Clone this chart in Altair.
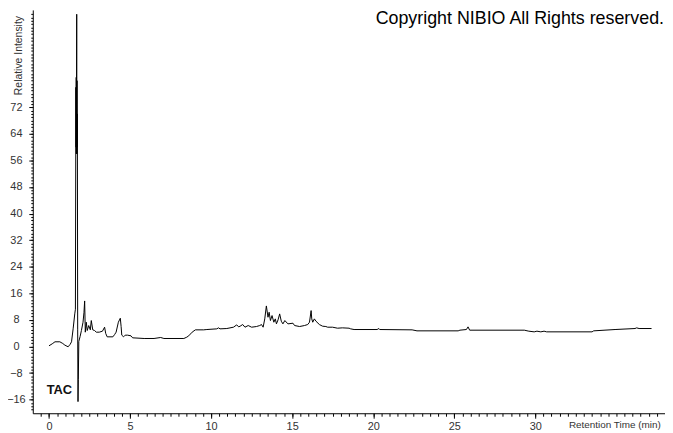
import altair as alt
import pandas as pd

# Chromatogram trace (retention time in min, relative intensity)
time_min = [
    0.0, 0.2, 0.37, 0.67, 0.85, 0.98, 1.18, 1.30, 1.39, 1.49, 1.59, 1.63,
    1.66, 1.67, 1.68, 1.69, 1.70, 1.71, 1.72, 1.73, 1.74, 1.75, 1.77, 1.79,
    1.81, 1.84, 1.92, 2.00, 2.10, 2.16, 2.20, 2.24, 2.30, 2.36, 2.45, 2.55,
    2.61, 2.70, 2.81, 2.92, 3.10, 3.30, 3.43, 3.50, 3.59, 3.94, 4.05, 4.14,
    4.28, 4.40, 4.45, 4.49, 4.60, 4.70, 4.85, 5.06, 5.16, 5.87, 6.48, 6.89,
    7.09, 8.32, 8.50, 8.62, 8.83, 9.03, 9.54, 9.74, 10.35, 10.46, 10.55, 10.97,
    11.38, 11.58, 11.70, 11.79, 11.95, 12.09, 12.29, 12.50, 12.80, 13.00, 13.11, 13.21,
    13.31, 13.41, 13.51, 13.58, 13.66, 13.76, 13.87, 13.96, 14.03, 14.13, 14.23, 14.33,
    14.43, 14.55, 14.74, 15.05, 15.15, 15.46, 15.76, 15.96, 16.07, 16.17, 16.21, 16.27,
    16.37, 16.47, 16.68, 16.88, 17.08, 17.19, 17.49, 17.80, 18.10, 18.51, 18.61, 18.82,
    20.24, 20.35, 20.40, 22.40, 22.70, 25.24, 25.35, 25.75, 25.85, 25.95, 29.32, 29.60,
    29.93, 30.10, 30.34, 30.54, 30.70, 33.50, 33.60, 34.92, 36.15, 36.25, 36.40, 37.17,
]
intensity = [
    0.2, 0.8, 1.4, 1.4, 0.9, 0.4, -0.1, 0.6, 1.4, 5.3, 9.8, 11.2,
    78, 60, 81, 58, 80, 100, 58, 80, 60, 70, 5, -16.6,
    -10, 1.5, 3.0, 4.8, 7.3, 10.3, 13.7, 4.3, 7.3, 4.8, 6.3, 5.0,
    7.8, 5.0, 4.8, 4.3, 4.3, 4.6, 5.8, 3.9, 2.9, 2.9, 3.6, 4.3,
    7.3, 8.5, 6.0, 3.4, 2.9, 3.4, 3.4, 3.2, 2.6, 2.4, 2.4, 2.7,
    2.4, 2.4, 2.8, 3.2, 4.3, 5.0, 5.0, 5.1, 5.3, 5.6, 5.3, 5.4,
    5.8, 6.5, 5.9, 6.1, 6.6, 5.8, 6.3, 5.8, 6.0, 6.3, 6.6, 5.8,
    8.3, 12.2, 8.8, 10.3, 7.8, 9.3, 7.3, 8.3, 6.8, 8.0, 9.8, 7.6,
    6.8, 7.8, 6.8, 7.0, 6.3, 6.0, 6.3, 6.6, 7.3, 10.8, 8.3, 7.3,
    8.3, 7.6, 6.6, 6.1, 6.0, 5.8, 5.8, 5.5, 5.6, 5.5, 5.3, 5.1,
    5.1, 5.4, 5.1, 5.0, 4.7, 4.7, 4.9, 5.1, 5.9, 4.9, 4.9, 4.6,
    4.4, 4.6, 4.4, 4.6, 4.4, 4.4, 4.7, 5.1, 5.4, 5.6, 5.4, 5.4,
]

x_labels = [0, 5, 10, 15, 20, 25, 30]
x_minor = [i * 0.5 for i in range(-1, 77)]
y_labels = [-16, -8, 0, 8, 16, 24, 32, 40, 48, 56, 64, 72]
y_minor = list(range(-19, 101))

df = pd.DataFrame({"t": time_min, "v": intensity})

xscale = alt.Scale(domain=[-1, 38], nice=False, zero=False)
yscale = alt.Scale(domain=[-20.1, 101.3], nice=False, zero=False)

FONT = "Liberation Sans"

line = alt.Chart(df).mark_line(color="black", strokeWidth=1, clip=True).encode(
    x=alt.X("t:Q", scale=xscale, axis=alt.Axis(
        values=x_labels, orient="bottom", tickSize=5, labelPadding=2, title=None,
        grid=False, domainColor="black", tickColor="black", labelFontSize=11,
        labelColor="#333333", labelFont=FONT)),
    y=alt.Y("v:Q", scale=yscale, axis=alt.Axis(
        values=y_labels, orient="left", tickSize=4, labelAlign="center",
        labelPadding=13, title=None, grid=False, domainColor="black",
        tickColor="black", labelFontSize=11, labelColor="#333333", labelFont=FONT)),
)

minor = alt.Chart(df).mark_line(opacity=0).encode(
    x=alt.X("t:Q", scale=xscale, axis=alt.Axis(
        values=x_minor, orient="bottom", tickSize=3, labels=False, domain=False,
        title=None, grid=False, tickColor="black")),
    y=alt.Y("v:Q", scale=yscale, axis=alt.Axis(
        values=y_minor, orient="left", tickSize=2, labels=False, domain=False,
        title=None, grid=False, tickColor="black")),
)

one = pd.DataFrame({"a": [0]})

copyright_txt = alt.Chart(one).mark_text(
    text="Copyright NIBIO All Rights reserved.", font=FONT, fontSize=18,
    align="right", baseline="alphabetic", color="black"
).encode(x=alt.value(637), y=alt.value(14))

tac_txt = alt.Chart(one).mark_text(
    text="TAC", font=FONT, fontSize=13, fontWeight="bold",
    align="left", baseline="alphabetic", color="#111111"
).encode(x=alt.value(14), y=alt.value(388))

xtitle_txt = alt.Chart(one).mark_text(
    text="Retention Time (min)", font=FONT, fontSize=10,
    align="left", baseline="alphabetic", color="#333333"
).encode(x=alt.value(541), y=alt.value(422))

ytitle_txt = alt.Chart(one).mark_text(
    text="Relative Intensity", font=FONT, fontSize=10.5, angle=270,
    align="left", baseline="middle", color="#333333"
).encode(x=alt.value(-14), y=alt.value(86))

chart = alt.layer(
    line, minor, copyright_txt, tac_txt, xtitle_txt, ytitle_txt
).resolve_axis(
    x="independent", y="independent"
).properties(
    width=638, height=407,
    padding={"left": 25, "top": 0, "right": 0, "bottom": 18},
    autosize=alt.AutoSizeParams(type="none"),
    background="white",
).configure_view(stroke=None)

chart.save("out.html", embed_options={"renderer": "svg", "actions": False})
